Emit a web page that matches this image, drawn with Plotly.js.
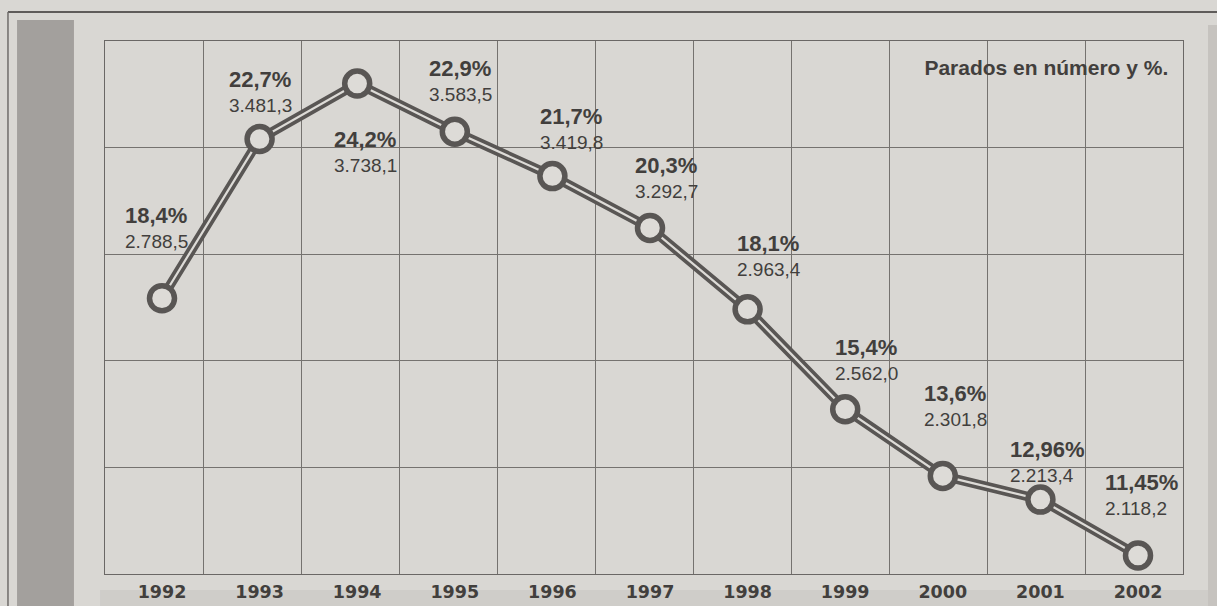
<!DOCTYPE html>
<html>
<head>
<meta charset="utf-8">
<script src="https://cdn.plot.ly/plotly-3.0.1.min.js"></script>
<style>
  html, body { margin: 0; padding: 0; background: #d9d7d3; }
  #chart { width: 1217px; height: 606px; }
</style>
</head>
<body>
<div id="chart"></div>
<script>
// ---- data ----
const years = [1992, 1993, 1994, 1995, 1996, 1997, 1998, 1999, 2000, 2001, 2002];
const tasaParo = [18.4, 22.7, 24.2, 22.9, 21.7, 20.3, 18.1, 15.4, 13.6, 12.96, 11.45];
const paradosMiles = [2788.5, 3481.3, 3738.1, 3583.5, 3419.8, 3292.7, 2963.4, 2562.0, 2301.8, 2213.4, 2118.2];
const yearLabels = ["1992", "1993", "1994", "1995", "1996", "1997", "1998", "1999", "2000", "2001", "2002"];
const chartTitle = "Parados en número y %.";

// ---- label placement (pixel offsets from each point) ----
const labelShiftX = [-39, -33, -25, -28, -14, -17, -13, -12, -21, -32, -35];
const labelShiftY = [71, 48, -68, 51, 48, 50, 54, 50, 70, 38, 61];

function fmtPct(v) { return String(v).replace('.', ',') + '%'; }
function fmtNum(v) {
  const parts = v.toFixed(1).split('.');
  const intPart = parts[0].replace(/\B(?=(\d{3})+(?!\d))/g, '.');
  return intPart + ',' + parts[1];
}

const DARK = '#595654';
const LIGHT = '#dddbd7';
const TEXT = '#423f3d';
const FONT = 'Liberation Sans, Arial, Helvetica, sans-serif';

const traces = [
  { x: years, y: tasaParo, mode: 'lines', line: { color: DARK, width: 9.5 }, hoverinfo: 'skip', showlegend: false },
  { x: years, y: tasaParo, mode: 'lines', line: { color: LIGHT, width: 2.2 }, hoverinfo: 'skip', showlegend: false },
  { x: years, y: tasaParo, mode: 'markers',
    marker: { size: 25, color: LIGHT, line: { color: DARK, width: 5.5 } },
    hoverinfo: 'skip', showlegend: false },
  { x: [years[0]], y: [tasaParo[0]], xaxis: 'x2', mode: 'markers', marker: { opacity: 0 }, hoverinfo: 'skip', showlegend: false }
];

const annotations = years.map((yr, i) => ({
  x: yr, y: tasaParo[i], xref: 'x', yref: 'y',
  text: '<span style="font-size:22px;font-weight:bold">' + fmtPct(tasaParo[i]) + '</span><br>' + fmtNum(paradosMiles[i]),
  showarrow: false, xanchor: 'left', yanchor: 'middle', align: 'left',
  xshift: labelShiftX[i], yshift: labelShiftY[i],
  font: { family: FONT, size: 19, color: TEXT }
}));

const layout = {
  width: 1217, height: 606,
  margin: { l: 105, r: 34, t: 41, b: 32 },
  paper_bgcolor: '#d9d7d3',
  plot_bgcolor: '#d9d7d3',
  title: {
    text: '<b>' + chartTitle + '</b>',
    x: 0.96, xanchor: 'right', xref: 'container',
    y: 0.888, yanchor: 'middle', yref: 'container',
    font: { family: FONT, size: 21, color: TEXT }
  },
  xaxis: {
    range: [1991.416, 2002.461],
    tickvals: years, ticktext: yearLabels,
    tickfont: { family: 'DejaVu Sans, sans-serif', size: 17.5, color: TEXT, weight: 'bold' },
    ticks: '', showgrid: false, zeroline: false,
    showline: true, mirror: true, linecolor: '#6a6765', linewidth: 1,
    ticklabelstandoff: 2
  },
  xaxis2: {
    overlaying: 'x', matches: 'x', anchor: 'y',
    tick0: 1991.416, dtick: 1.00409, tickmode: 'linear',
    showgrid: true, gridcolor: '#75726f', gridwidth: 1,
    showticklabels: false, ticks: '', zeroline: false, showline: false
  },
  yaxis: {
    range: [10.95, 25.35],
    tick0: 10.95, dtick: 2.88, tickmode: 'linear',
    showgrid: true, gridcolor: '#75726f', gridwidth: 1,
    showticklabels: false, ticks: '', zeroline: false,
    showline: true, mirror: true, linecolor: '#6a6765', linewidth: 1
  },
  shapes: [
    { type: 'rect', xref: 'paper', yref: 'paper', x0: -0.0816, x1: -0.0288, y0: -0.07, y1: 1.0394,
      fillcolor: '#a3a09d', line: { width: 0 }, layer: 'below' },
    { type: 'rect', xref: 'paper', yref: 'paper', x0: -0.0046, x1: 1.04, y0: -0.07, y1: -0.030,
      fillcolor: '#cfcdc9', line: { width: 0 }, layer: 'below' },
    { type: 'rect', xref: 'paper', yref: 'paper', x0: 1.0232, x1: 1.04, y0: -0.07, y1: 1.03,
      fillcolor: '#c6c3bf', line: { width: 0 }, layer: 'below' },
    { type: 'line', xref: 'paper', yref: 'paper', x0: -0.09, x1: 1.04, y0: 1.0544, y1: 1.0544,
      line: { color: '#5f5c5a', width: 2 } },
    { type: 'line', xref: 'paper', yref: 'paper', x0: -0.09, x1: -0.09, y0: -0.07, y1: 1.0544,
      line: { color: '#6f6c6a', width: 1.5 } }
  ],
  annotations: annotations
};

Plotly.newPlot('chart', traces, layout, { staticPlot: true });
</script>
</body>
</html>
